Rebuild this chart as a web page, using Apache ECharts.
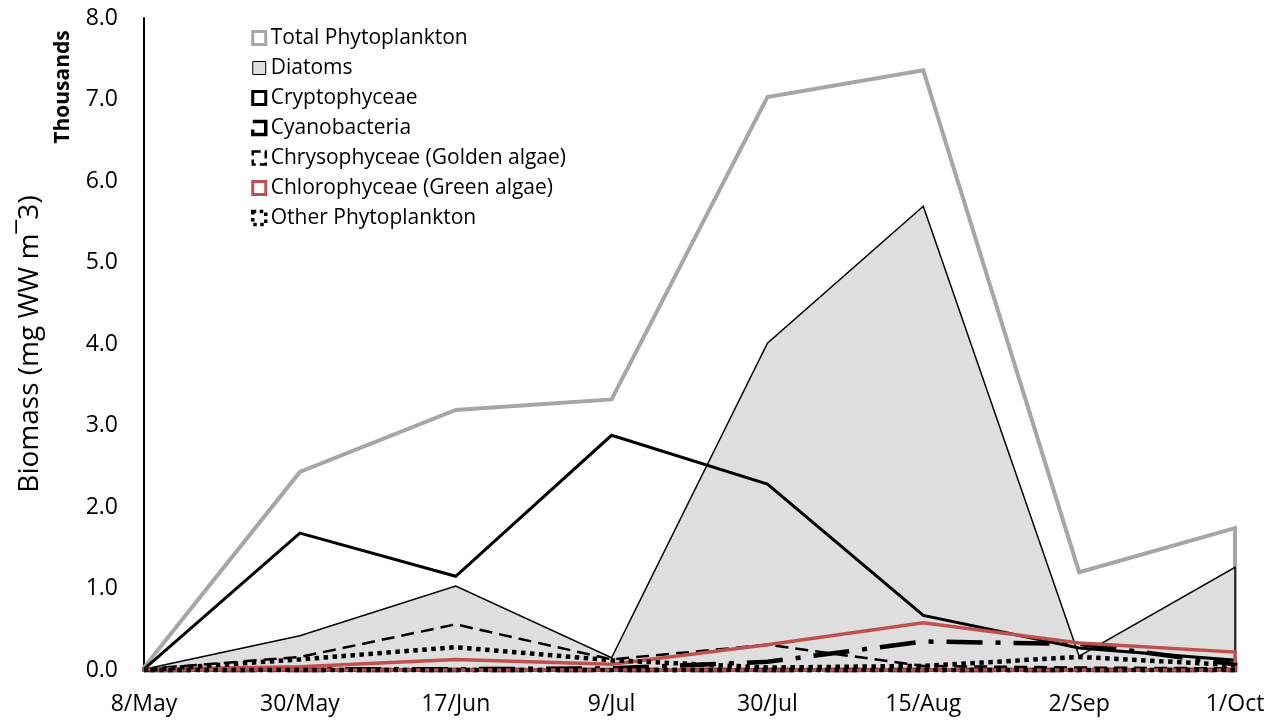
<!DOCTYPE html>
<html>
<head>
<meta charset="utf-8">
<script src="https://cdn.jsdelivr.net/npm/echarts@6/dist/echarts.min.js"></script>
<style>html,body{margin:0;padding:0;background:#fff}#c{width:1280px;height:723px}</style>
</head>
<body>
<div id="c"></div>
<script>
const categories = ['8/May','30/May','17/Jun','9/Jul','30/Jul','15/Aug','2/Sep','1/Oct'];
const seriesNames = ['Total Phytoplankton','Diatoms','Cryptophyceae','Cyanobacteria','Chrysophyceae (Golden algae)','Chlorophyceae (Green algae)','Other Phytoplankton'];
const total      = [0.03, 2.43, 3.19, 3.32, 7.03, 7.36, 1.20, 1.74];
const diatoms    = [0.01, 0.42, 1.03, 0.15, 4.01, 5.69, 0.17, 1.26];
const crypto     = [0.01, 1.68, 1.15, 2.88, 2.28, 0.67, 0.27, 0.12];
const cyano      = [0.00, 0.01, 0.01, 0.02, 0.10, 0.35, 0.32, 0.07];
const chryso     = [0.01, 0.16, 0.56, 0.13, 0.31, 0.05, 0.03, 0.02];
const chloro     = [0.01, 0.04, 0.13, 0.07, 0.31, 0.58, 0.33, 0.22];
const other      = [0.00, 0.13, 0.28, 0.12, 0.03, 0.05, 0.16, 0.06];
const yTicks = [0,1,2,3,4,5,6,7,8];

const FONT = 'Open Sans';
const styles = [
  {fill:'none', stroke:'#a6a6a6', lw:4, dash:null},
  {fill:'#dedede', stroke:'#000', lw:1.5, dash:null},
  {fill:'none', stroke:'#000', lw:3, dash:null},
  {fill:'none', stroke:'#000', lw:4.5, dash:[36,13,5,13]},
  {fill:'none', stroke:'#000', lw:2.5, dash:[13,7]},
  {fill:'none', stroke:'#c0504d', lw:3.5, dash:null},
  {fill:'none', stroke:'#000', lw:4.5, dash:[4.5,4.5]}
];
const values = [total, diatoms, crypto, cyano, chryso, chloro, other];

function makeSeries(idx){
  const vals = values[idx], st = styles[idx];
  return {
    type:'custom', name: seriesNames[idx],
    coordinateSystem:'cartesian2d',
    data:[[0,0]],
    z: 2 + idx,
    clip:false,
    itemStyle:{color: st.fill==='none' ? st.stroke : st.fill, borderColor: st.stroke},
    renderItem: function(params, api){
      const pts = vals.map((v,i)=>api.coord([i, v]));
      pts.push(api.coord([vals.length-1, 0]));
      pts.push(api.coord([0, 0]));
      const style = {fill: st.fill, stroke: st.stroke, lineWidth: st.lw, lineJoin:'miter', lineCap:'butt'};
      if (st.dash) style.lineDash = st.dash;
      return {type:'polygon', shape:{points:pts}, style: style, z2: idx};
    }
  };
}

const legendItems = [
  {name:seriesNames[0], itemStyle:{color:'#fff', borderColor:'#a6a6a6', borderWidth:3}},
  {name:seriesNames[1], itemStyle:{color:'#dedede', borderColor:'#000', borderWidth:1}},
  {name:seriesNames[2], itemStyle:{color:'#fff', borderColor:'#000', borderWidth:3}},
  {name:seriesNames[3], itemStyle:{color:'#fff', borderColor:'#000', borderWidth:3.5, borderType:[44,8]}},
  {name:seriesNames[4], itemStyle:{color:'#fff', borderColor:'#000', borderWidth:2.5, borderType:[8,4]}},
  {name:seriesNames[5], itemStyle:{color:'#fff', borderColor:'#c0504d', borderWidth:3}},
  {name:seriesNames[6], itemStyle:{color:'#fff', borderColor:'#000', borderWidth:3.5, borderType:[3.5,3.5]}}
].map(d=>Object.assign({icon:'rect'}, d));

const chart = echarts.init(document.getElementById('c'));
chart.setOption({
  animation:false,
  backgroundColor:'#fff',
  textStyle:{fontFamily:FONT},
  grid:{left:144, right:45, top:18, bottom:53, containLabel:false},
  legend:{
    orient:'vertical', left:246, top:21, itemWidth:13, itemHeight:13, itemGap:6,
    textStyle:{fontSize:21, lineHeight:24, color:'#000', fontFamily:FONT, padding:[0,0,0,0]},
    data: legendItems
  },
  xAxis:{
    type:'category', data:categories, boundaryGap:false,
    axisLine:{show:false}, axisTick:{show:false},
    axisLabel:{fontSize:23, color:'#000', margin:23, fontFamily:FONT},
    splitLine:{show:false}
  },
  yAxis:{
    type:'value', min:0, max:8, interval:1,
    axisLine:{show:true, lineStyle:{color:'#000', width:2}},
    axisTick:{show:false}, splitLine:{show:false},
    axisLabel:{fontSize:23, color:'#000', margin:26, formatter:v=>v.toFixed(1), fontFamily:FONT},
    name:'Biomass (mg WW m¯3)', nameLocation:'middle', nameRotate:90, nameGap:100,
    nameTextStyle:{fontSize:28, color:'#000', fontFamily:FONT}
  },
  graphic:[{
    type:'text', x:63, y:87, rotation:Math.PI/2,
    style:{text:'Thousands', fontSize:21, fontWeight:'bold', fill:'#000', fontFamily:FONT, align:'center', verticalAlign:'middle'}
  }],
  series: values.map((v,i)=>makeSeries(i))
});
</script>
</body>
</html>
